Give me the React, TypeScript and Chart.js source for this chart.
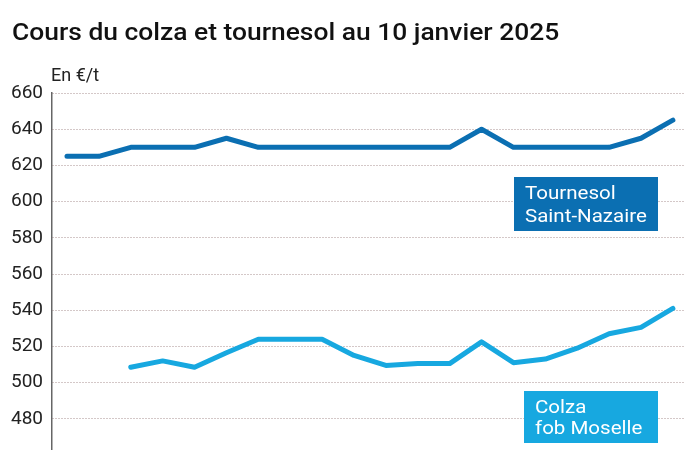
import React, { useEffect, useRef } from "react";
import { Chart, registerables } from "chart.js";

Chart.register(...registerables);

const sessions: string[] = [
  "s1", "s2", "s3", "s4", "s5", "s6", "s7", "s8", "s9", "s10",
  "s11", "s12", "s13", "s14", "s15", "s16", "s17", "s18", "s19", "s20",
];
const tournesol: (number | null)[] = [
  625, 625, 630, 630, 630, 635, 630, 630, 630, 630,
  630, 630, 630, 640, 630, 630, 630, 630, 635, 645,
];
const colza: (number | null)[] = [
  null, null, 508.5, 512, 508.5, 516.5, 524, 524, 524, 515,
  509.5, 510.5, 510.5, 522.5, 511, 513, 519, 527, 530.5, 541,
];
const yTicks: number[] = [480, 500, 520, 540, 560, 580, 600, 620, 640, 660];

const TITLE = "Cours du colza et tournesol au 10 janvier 2025";
const UNIT = "En €/t";
const DARK = "#0b6fb2";
const LIGHT = "#17a8e0";

const overlay = {
  id: "overlay",
  afterDraw(chart: any) {
    const ctx = chart.ctx as CanvasRenderingContext2D;
    ctx.save();
    ctx.fillStyle = "#111";
    ctx.textBaseline = "alphabetic";
    ctx.textAlign = "left";
    ctx.save();
    ctx.translate(12, 40);
    ctx.scale(1.1, 1);
    ctx.font = "500 24px Roboto";
    ctx.fillText(TITLE, 0, 0);
    ctx.restore();
    ctx.fillStyle = "#222";
    ctx.font = "18px Roboto";
    ctx.fillText(UNIT, 51, 81);

    const boxes = [
      { x: 514, y: 177, w: 144, h: 54, color: DARK, lines: ["Tournesol", "Saint-Nazaire"], tx: 525, b1: 199, b2: 222 },
      { x: 524, y: 391, w: 134, h: 52, color: LIGHT, lines: ["Colza", "fob Moselle"], tx: 535, b1: 413, b2: 434 },
    ];
    for (const b of boxes) {
      ctx.fillStyle = b.color;
      ctx.fillRect(b.x, b.y, b.w, b.h);
      ctx.fillStyle = "#ffffff";
      ctx.font = "18px Roboto";
      ctx.save();
      ctx.translate(b.tx, b.b1);
      ctx.scale(1.14, 1);
      ctx.fillText(b.lines[0], 0, 0);
      ctx.restore();
      ctx.save();
      ctx.translate(b.tx, b.b2);
      ctx.scale(1.14, 1);
      ctx.fillText(b.lines[1], 0, 0);
      ctx.restore();
    }
    ctx.restore();
  },
};

export default function App() {
  const ref = useRef<HTMLCanvasElement | null>(null);
  useEffect(() => {
    if (!ref.current) return;
    const chart = new Chart(ref.current, {
      type: "line",
      data: {
        labels: sessions,
        datasets: [
          {
            label: "Tournesol Saint-Nazaire",
            data: tournesol.map((v, i) => ({ x: i, y: v })),
            borderColor: DARK,
            borderWidth: 5,
            pointRadius: 0,
            tension: 0,
            borderCapStyle: "round",
            borderJoinStyle: "round",
          },
          {
            label: "Colza fob Moselle",
            data: colza.map((v, i) => ({ x: i, y: v })),
            borderColor: LIGHT,
            borderWidth: 5,
            pointRadius: 0,
            tension: 0,
            borderCapStyle: "round",
            borderJoinStyle: "round",
          },
        ],
      } as any,
      options: {
        animation: false,
        responsive: false,
        maintainAspectRatio: false,
        layout: { padding: { top: 93, right: 15, bottom: 0, left: 0 } },
        plugins: { legend: { display: false }, tooltip: { enabled: false }, title: { display: false } },
        scales: {
          x: {
            type: "linear",
            display: false,
            min: -0.47,
            max: 19.38,
          },
          y: {
            min: 463,
            max: 660,
            afterBuildTicks: (s: any) => {
              s.ticks = yTicks.map((v) => ({ value: v }));
            },
            afterFit: (s: any) => {
              s.width = 52;
            },
            border: { display: true, color: "#666", width: 1.5, dash: [1, 2] },
            grid: {
              drawTicks: false,
              color: "rgba(165,140,140,0.95)",
              lineWidth: 1,
            },
            ticks: {
              padding: 9,
              color: "#222",
              font: { family: "Roboto", size: 19 },
            },
          },
        },
      } as any,
      plugins: [overlay],
    });
    return () => chart.destroy();
  }, []);
  return (
    <div style={{ position: "fixed", left: 0, top: 0, width: 700, height: 450, overflow: "hidden", background: "#fff" }}>
      <canvas ref={ref} width={700} height={470} style={{ display: "block" }} />
    </div>
  );
}
